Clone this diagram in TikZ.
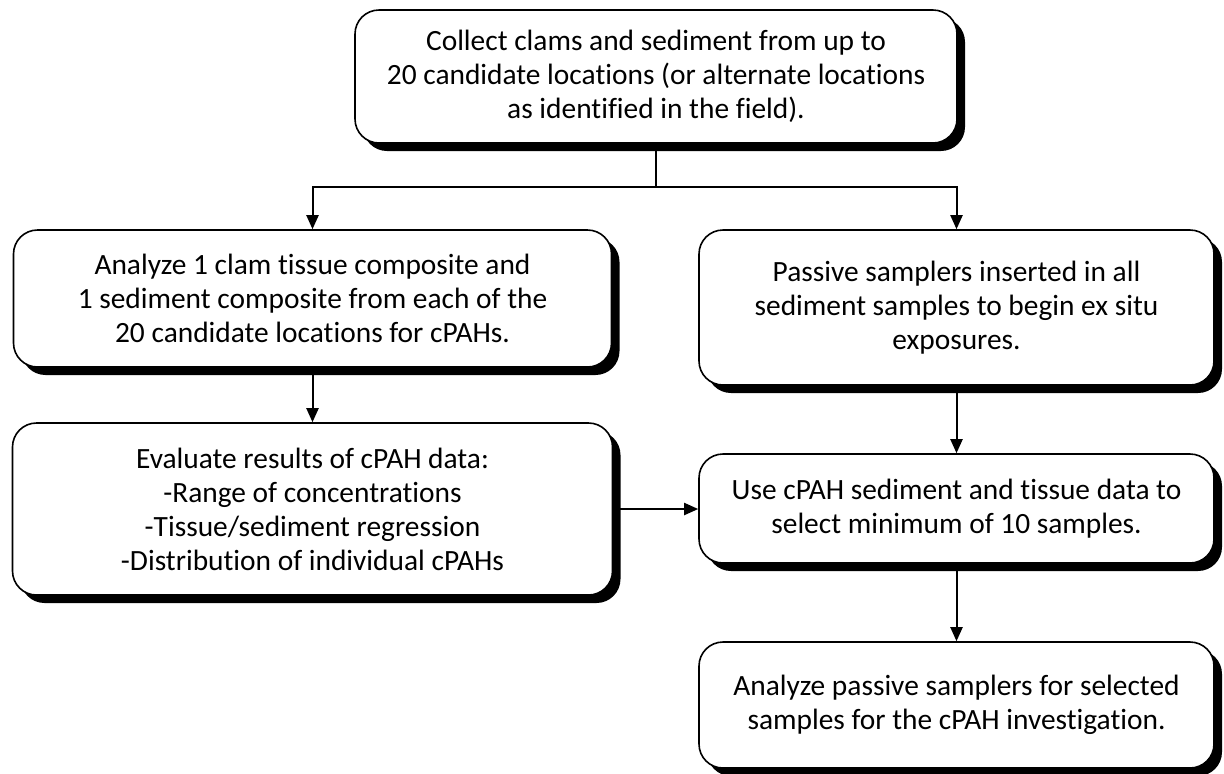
\documentclass[tikz,border=0pt]{standalone}
\usepackage{fontspec}
\setmainfont{Carlito}[Ligatures=NoCommon]
\usetikzlibrary{arrows.meta,shadows}

\begin{document}
\begin{tikzpicture}[x=0.5pt,y=-0.5pt,
   box/.style={draw, rounded corners=12pt, fill=white, align=center,
      line width=0.8pt, inner sep=0pt,
      drop shadow={shadow xshift=4pt, shadow yshift=-4pt, fill=black, opacity=1}},
   link/.style={line width=1pt, -{Triangle[width=6pt,length=7pt]}},
   every node/.style={font=\fontsize{14.7}{17}\selectfont}]

\useasboundingbox (0,0) rectangle (1224,773);

\node[box, minimum width=301pt, minimum height=66.5pt] (top) at (656,76.5)
   {Collect clams and sediment from up to\\
    20 candidate locations (or alternate locations\\
    as identified in the field).};

\node[box, minimum width=299pt, minimum height=68.5pt] (clam) at (312.5,298.5)
   {Analyze 1 clam tissue composite and\\
    1 sediment composite from each of the\\
    20 candidate locations for cPAHs.};
\node[box, minimum width=300pt, minimum height=86pt] (evaluate) at (312.5,509)
   {Evaluate results of cPAH data:\\
    -Range of concentrations\\
    -Tissue/sediment regression\\
    -Distribution of individual cPAHs};

\node[box, minimum width=257.5pt, minimum height=77.5pt] (passive) at (956.5,307.5)
   {Passive samplers inserted in all\\
    sediment samples to begin ex situ\\
    exposures.};
\node[box, minimum width=257.5pt, minimum height=54.5pt] (select) at (956.5,508.5)
   {Use cPAH sediment and tissue data to\\
    select minimum of 10 samples.};
\node[box, minimum width=257.5pt, minimum height=63pt] (analyze) at (956.5,705)
   {Analyze passive samplers for selected\\
    samples for the cPAH investigation.};

% connectors
\coordinate (split) at (656,187);
\draw[line width=1pt] (top.south) -- (split);
\draw[link] (split) -| (clam.north);
\draw[link] (split) -| (passive.north);
\draw[link] (clam.south) -- (evaluate.north);
\draw[link] (passive.south) -- (select.north);
\draw[link] (select.south) -- (analyze.north);
\draw[link] (evaluate.east) -- (select.west |- evaluate.east);

\end{tikzpicture}
\end{document}
